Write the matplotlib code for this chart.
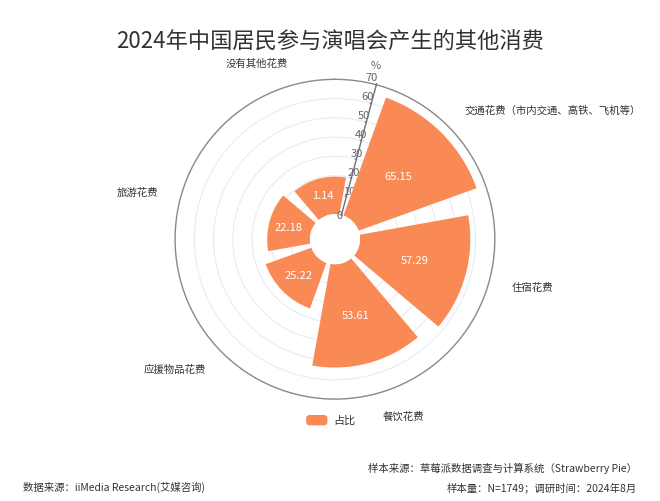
import numpy as np
import matplotlib
matplotlib.use('Agg')
import matplotlib.pyplot as plt
from matplotlib.patches import FancyBboxPatch

plt.rcParams['font.family'] = ['Noto Sans CJK SC', 'DejaVu Sans']

categories = ['交通花费（市内交通、高铁、飞机等）', '住宿花费', '餐饮花费', '应援物品花费', '旅游花费', '没有其他花费']
labels = ['65.15', '57.29', '53.61', '25.22', '22.18', '1.14']
bar_heights = [65.15, 57.29, 53.61, 25.22, 22.18, 19.5]
r_ticks = [0, 10, 20, 30, 40, 50, 60, 70]

ORANGE = '#FA8A55'
AXIS_DEG = 15

fig = plt.figure(figsize=(6.6, 5.02), dpi=100)
ax = fig.add_axes([0.265, 0.203, 0.485, 0.637], projection='polar')
ax.set_theta_zero_location('N')
ax.set_theta_direction(-1)
ax.set_ylim(0, 70)
ax.set_rorigin(-13)

step = 2 * np.pi / len(categories)
centers = np.deg2rad(AXIS_DEG) + step / 2 + step * np.arange(len(categories))
ax.bar(centers, bar_heights, width=step * 0.84, color=ORANGE, edgecolor='none', zorder=3)
for th, h, lab in zip(centers, bar_heights, labels):
    ax.text(th, h / 2 + 1, lab, color='white', fontsize=8, ha='center', va='center', zorder=4)

ax.set_xticks([])
ax.set_yticks(r_ticks[1:])
ax.set_yticklabels([str(t) for t in r_ticks[1:]], fontsize=8, color='#666666')
ax.set_rlabel_position(AXIS_DEG - 4)
ax.text(np.deg2rad(AXIS_DEG - 4), 0, '0', fontsize=8, color='#666666', ha='center', va='center')
ax.yaxis.grid(True, color='#E8ECF0', linewidth=0.8)
ax.xaxis.grid(False)
ax.spines['polar'].set_color('#8A8A8A')
ax.spines['polar'].set_linewidth(1.0)
ax.spines['inner'].set_linewidth(0)
ax.spines['inner'].set_color('none')
ax.plot([np.deg2rad(AXIS_DEG)] * 2, [0, 70.5], color='#6E7079', lw=1, zorder=5, clip_on=False)
for t in r_ticks:
    ax.plot([np.deg2rad(AXIS_DEG), np.deg2rad(AXIS_DEG - 1.8 * 20 / (t + 13))], [t, t],
            color='#6E7079', lw=0.8, zorder=5, clip_on=False)
ax.text(np.deg2rad(AXIS_DEG - 2), 80, '%', fontsize=8, color='#666666', ha='center', va='center')

# category labels around the outer ring
for th, cat in zip(centers, categories):
    deg = np.rad2deg(th) % 360
    ha = 'left' if 10 < deg < 170 else ('right' if 190 < deg < 350 else 'center')
    if cat == categories[0]:
        ha = 'left'
    ax.text(th, 82, cat, fontsize=7.5, color='#333333', ha=ha, va='center')

fig.text(0.5, 0.915, '2024年中国居民参与演唱会产生的其他消费', fontsize=16, ha='center', va='center', color='#333333')

# legend
fig.patches.append(FancyBboxPatch((0.465, 0.152), 0.03, 0.018, boxstyle='round,pad=0,rounding_size=0.005',
                                  transform=fig.transFigure, color=ORANGE))
fig.text(0.505, 0.161, '占比', fontsize=8, va='center', color='#333333')

fig.text(0.965, 0.06, '样本来源：草莓派数据调查与计算系统（Strawberry Pie）', fontsize=7.5, ha='right', color='#333333')
fig.text(0.965, 0.022, '样本量：N=1749；调研时间：2024年8月', fontsize=7.5, ha='right', color='#333333')
fig.text(0.035, 0.022, '数据来源：iiMedia Research(艾媒咨询)', fontsize=7.5, ha='left', color='#333333')

fig.savefig('out.png', dpi=100)
